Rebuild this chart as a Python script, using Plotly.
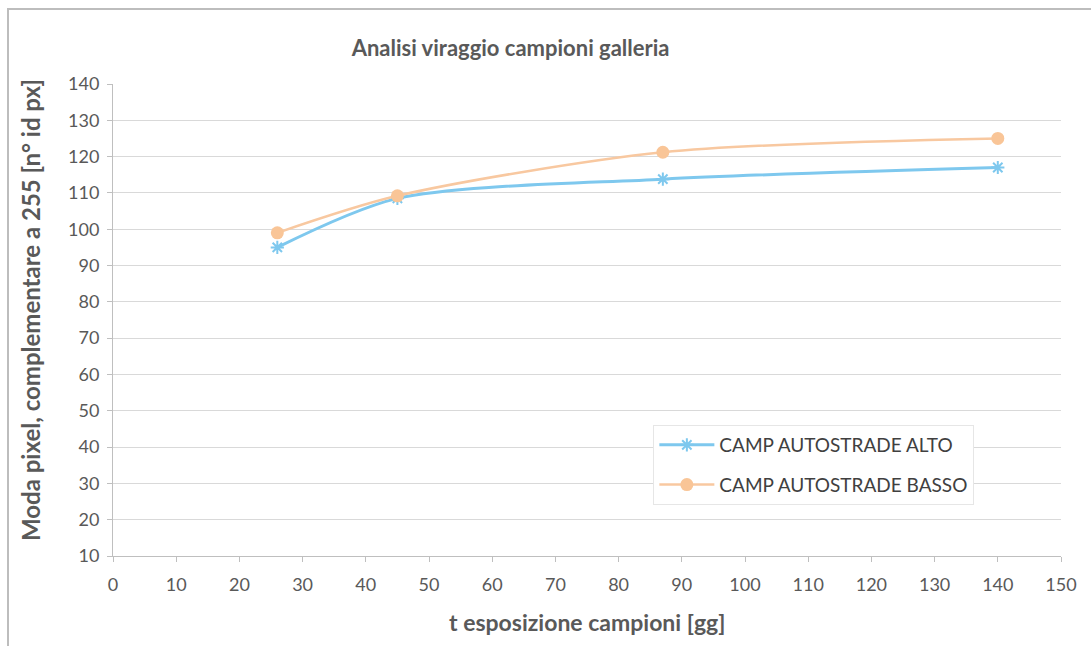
import plotly.graph_objects as go

# Exposure time (days) and pixel-mode values for the two sample positions
giorni = [26, 45, 87, 140]
alto = [95, 108.5, 113.8, 117]
basso = [99, 109.2, 121.2, 125]

x_ticks = list(range(0, 151, 10))
y_ticks = list(range(10, 141, 10))

FONT = "Lato, 'Open Sans', sans-serif"
GREY = "#595959"

fig = go.Figure()
fig.add_trace(go.Scatter(
    x=giorni, y=alto, name="CAMP AUTOSTRADE ALTO", legendgroup="alto",
    mode="lines+markers", line=dict(color="#7ec8ee", width=3, shape="spline", smoothing=0.8),
    marker=dict(symbol="asterisk-open", size=11, line=dict(color="#6cc0ec", width=2)),
))
fig.add_trace(go.Scatter(
    x=giorni, y=basso, name="CAMP AUTOSTRADE BASSO", legendgroup="basso",
    mode="lines+markers", line=dict(color="#f8c8a0", width=2.5, shape="spline", smoothing=0.8),
    marker=dict(symbol="circle", size=13, color="#f9c597"),
))

fig.update_layout(
    width=1091, height=646,
    margin=dict(l=113, r=30, t=84, b=90),
    paper_bgcolor="white", plot_bgcolor="white",
    font=dict(family=FONT, color=GREY, size=18),
    title=dict(text="<b>Analisi viraggio campioni galleria</b>", xref="container", x=0.468,
               xanchor="center", y=1 - 48 / 646, yanchor="middle",
               font=dict(family=FONT, size=22, color=GREY)),
    showlegend=True,
    legend=dict(x=0.57, y=0.2775, xanchor="left", yanchor="top",
                bgcolor="white", bordercolor="#e6e6e6", borderwidth=1,
                font=dict(family=FONT, size=19, color="#404040"),
                itemwidth=55, tracegroupgap=12),
)

fig.update_xaxes(
    range=[0, 150], tickvals=x_ticks, ticktext=[str(v) for v in x_ticks],
    showgrid=False, zeroline=False, showline=True, linecolor="#bfbfbf", linewidth=1,
    ticks="outside", ticklen=5, tickcolor="#bfbfbf",
    tickfont=dict(family=FONT, size=18, color=GREY), ticklabelstandoff=7,
)
fig.update_yaxes(
    range=[10, 140], tickvals=y_ticks, ticktext=[str(v) for v in y_ticks],
    showgrid=True, gridcolor="#d9d9d9", gridwidth=1, zeroline=False,
    showline=True, linecolor="#bfbfbf", linewidth=1,
    ticks="outside", ticklen=5, tickcolor="#bfbfbf",
    tickfont=dict(family=FONT, size=18, color=GREY), ticklabelstandoff=4,
)

# Axis titles
fig.add_annotation(text="<b>Moda pixel, complementare a 255 [n° id px]</b>",
                   xref="paper", yref="paper", x=(30 - 113) / 948, y=(556 - 310) / 472,
                   textangle=-90, showarrow=False, xanchor="center", yanchor="middle",
                   font=dict(family=FONT, size=24, color=GREY))
fig.add_annotation(text="<b>t esposizione campioni [gg]</b>",
                   xref="paper", yref="paper", x=(587 - 113) / 948, y=(556 - 622) / 472,
                   showarrow=False, xanchor="center", yanchor="middle",
                   font=dict(family=FONT, size=23, color=GREY))

# Chart area border
fig.add_shape(type="rect", xref="paper", yref="paper",
              x0=(8 - 113) / 948, x1=(1100 - 113) / 948,
              y0=(556 - 660) / 472, y1=(556 - 9) / 472,
              line=dict(color="#bdbdbd", width=2), layer="below")

fig.write_html("out.html")
